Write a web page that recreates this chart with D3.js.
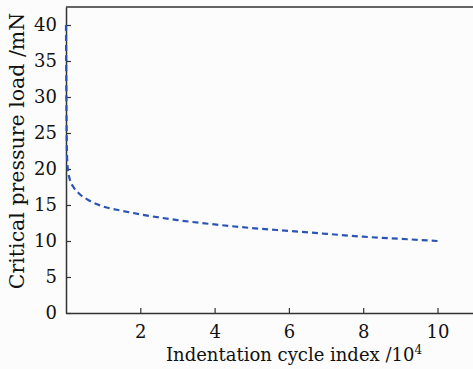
<!DOCTYPE html>
<html>
<head>
<meta charset="utf-8">
<script src="https://cdn.jsdelivr.net/npm/d3@7"></script>
<style>
  html, body { margin: 0; padding: 0; background: #fcfcfc; }
  svg { display: block; }
  text { font-family: "DejaVu Serif", serif; fill: #111; }
</style>
</head>
<body>
<svg id="drawing_region"></svg>
<script>
// cycle index (x 10^4) and critical load (mN)
const cycles = [0, 0.01, 0.02, 0.03, 0.05, 0.1, 0.2, 0.35, 0.6, 1, 1.5, 2, 3, 4, 5, 6, 7, 8, 9, 10];
const loads  = [40, 30, 24, 21.5, 20, 18.6, 17.5, 16.6, 15.7, 14.8, 14.2, 13.7, 12.9, 12.3, 11.8, 11.4, 11.0, 10.6, 10.3, 10.0];
const xticks = [2, 4, 6, 8, 10];
const yticks = [0, 5, 10, 15, 20, 25, 30, 35, 40];

const width = 473, height = 369;
const margin = {top: 7, right: 0, bottom: 56, left: 66};

const svg = d3.select('#drawing_region')
    .attr('width', width)
    .attr('height', height);

const inner_width = width - margin.left - margin.right;
const inner_height = height - margin.top - margin.bottom;

const chart = svg.append('g')
    .attr('transform', `translate(${margin.left}, ${margin.top})`);

const xscale = d3.scaleLinear()
    .domain([0, inner_width / 37.15])
    .range([0, inner_width]);

const yscale = d3.scaleLinear()
    .domain([0, inner_height / 7.2])
    .range([inner_height, 0]);

const xaxis = d3.axisBottom(xscale)
    .tickValues(xticks)
    .tickSize(-5)
    .tickSizeOuter(0)
    .tickPadding(12);

const yaxis = d3.axisLeft(yscale)
    .tickValues(yticks)
    .tickSize(-5)
    .tickSizeOuter(0)
    .tickPadding(9);

const xg = chart.append('g')
    .attr('transform', `translate(0, ${inner_height})`)
    .call(xaxis);
const yg = chart.append('g').call(yaxis);

[xg, yg].forEach(g => {
    g.attr('font-size', 18).attr('font-family', null);
    g.select('.domain').attr('stroke', '#333').attr('stroke-width', 1.5);
    g.selectAll('.tick line').attr('stroke', '#333').attr('stroke-width', 1.2);
    g.selectAll('.tick text').attr('fill', '#111');
});
xg.selectAll('.tick text').attr('dy', '0.71em');

// top frame line
chart.append('line')
    .attr('x1', 0).attr('x2', inner_width)
    .attr('y1', 0).attr('y2', 0)
    .attr('stroke', '#333').attr('stroke-width', 1.5);

const line = d3.line()
    .x((d, i) => xscale(cycles[i]))
    .y(d => yscale(d))
    .curve(d3.curveMonotoneX);

chart.append('path')
    .datum(loads)
    .attr('d', line)
    .attr('fill', 'none')
    .attr('stroke', '#2b55b4')
    .attr('stroke-width', 2.2)
    .attr('stroke-dasharray', '6,4');

svg.append('text')
    .attr('x', 294)
    .attr('y', 361)
    .attr('text-anchor', 'middle')
    .attr('font-size', 18)
    .html('Indentation cycle index /10<tspan dy="-7" font-size="12">4</tspan>');

svg.append('text')
    .attr('transform', 'translate(24, 151) rotate(-90)')
    .attr('text-anchor', 'middle')
    .attr('font-size', 20.5)
    .text('Critical pressure load /mN');
</script>
</body>
</html>
